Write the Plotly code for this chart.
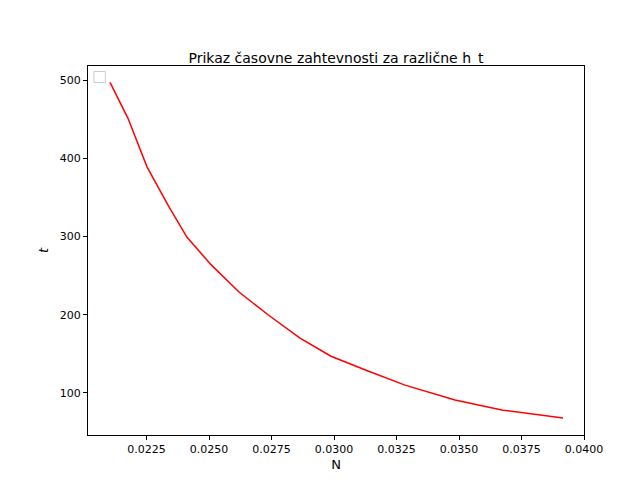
import plotly.graph_objects as go

N = [0.02104, 0.02176, 0.02252, 0.02336, 0.02412, 0.02508, 0.0262, 0.02736, 0.02864, 0.02988, 0.03136, 0.03284, 0.03484, 0.03676, 0.03916]
t = [497, 451, 389, 340, 299, 264, 229, 200, 170, 147, 128, 110, 91, 78, 68]
xticks = [0.0225, 0.0250, 0.0275, 0.0300, 0.0325, 0.0350, 0.0375, 0.0400]
yticks = [100, 200, 300, 400, 500]

fig = go.Figure(go.Scatter(x=N, y=t, mode="lines", line=dict(color="red", width=1.5), showlegend=False))
ax = dict(showline=True, linecolor="black", mirror=True, showgrid=False, zeroline=False,
          ticks="outside", ticklen=4, tickcolor="black", automargin=False)
fig.update_layout(
    width=640, height=480, plot_bgcolor="white", paper_bgcolor="white",
    margin=dict(l=80, r=64, t=58, b=53, autoexpand=False),
    font=dict(family="DejaVu Sans", size=11, color="black"),
    title=dict(text="Prikaz časovne zahtevnosti za različne h_t", x=0.5, xanchor="center",
               xref="paper", y=0.885, yref="container", yanchor="bottom", font=dict(size=14)),
    xaxis=dict(ax, range=[0.02016, 0.0400], tickvals=xticks, tickformat=".4f", title=dict(text="N", standoff=4)),
    yaxis=dict(ax, range=[46.3, 517.9], tickvals=yticks, title=dict(text="<i>t</i>", standoff=8)),
    shapes=[dict(type="rect", xref="paper", yref="paper", x0=0.012, x1=0.035, y0=0.955, y1=0.985,
                 line=dict(color="#cccccc", width=1), fillcolor="white")],
)
fig.write_html("out.html")
